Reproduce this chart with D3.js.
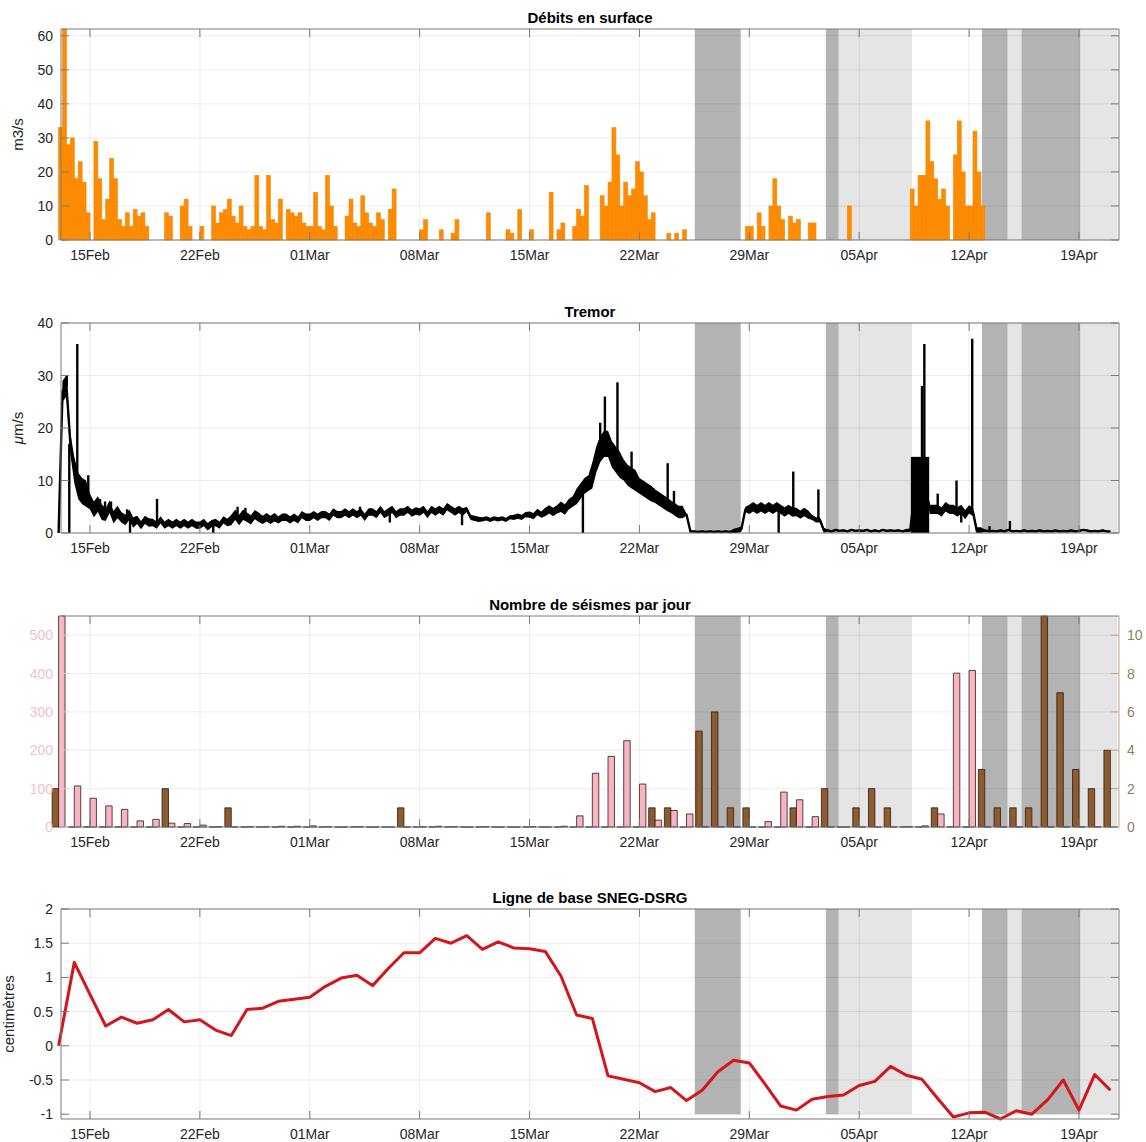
<!DOCTYPE html>
<html>
<head>
<meta charset="utf-8">
<style>
  body { margin: 0; background: #fff; }
  svg text { font-family: "Liberation Sans", Arial, Helvetica, sans-serif; fill: #262626; }
</style>
</head>
<body>
<svg id="chart" width="1146" height="1142"></svg>

<script src="https://d3js.org/d3.v7.min.js"></script>
<script>

// ---------- data ----------
// all series start 13 Feb 00:00 UTC
var t0 = Date.UTC(2021, 1, 13)

var tickDates = ['2021-02-15', '2021-02-22', '2021-03-01', '2021-03-08', '2021-03-15',
                 '2021-03-22', '2021-03-29', '2021-04-05', '2021-04-12', '2021-04-19']

// shaded periods (start, end)
var lightPeriods = [['2021-04-03T16:30', '2021-04-08T08:40'],
                    ['2021-04-14T10:50', '2021-04-15T08:10'],
                    ['2021-04-19T02:00', '2021-04-21T11:00']]
var darkPeriods  = [['2021-03-25T12:40', '2021-03-28T10:50'],
                    ['2021-04-02T21:00', '2021-04-03T16:30'],
                    ['2021-04-12T19:40', '2021-04-14T10:50'],
                    ['2021-04-15T08:10', '2021-04-19T02:00']]

// débits en surface, m3/s, one value every 6 h (one row per day)
var debits = [
  33,62,28,30,  18,23,17,8,  0,29,18,6,  12,24,18,6,  4,8,4,9,  7,8,4,0,  0,0,0,8,
  7,0,0,10,  12,4,0,0,  4,0,0,10,  5,8,9,12,  7,5,10,4,  3,4,19,4,  3,19,6,5,
  12,0,9,8,  7,8,5,4,  4,14,4,3,  19,10,4,0,  0,7,12,5,  4,13,8,5,  4,8,6,0,
  9,15,0,0,  0,0,0,0,  3,6,0,0,  0,3,0,0,  2,6,0,0,  0,0,0,0,  0,8,0,0,
  0,0,3,2,  0,9,0,0,  3,0,0,0,  0,14,0,3,  5,0,0,4,  9,7,16,0,  0,0,13,10,
  17,33,25,10,  17,13,15,23,  20,13,6,8,  0,0,0,2,  0,2,0,3,  0,0,0,0,  0,0,0,0,
  0,0,0,0,  0,0,0,4,  4,0,8,4,  0,10,18,10,  6,0,7,5,  6,0,0,5,  5,0,0,0,
  0,0,0,0,  0,10,0,0,  0,0,0,0,  0,0,0,0,  0,0,0,0,  0,15,10,19,  19,35,23,18,
  12,15,10,0,  25,35,20,10,  10,32,20,10
]

// tremor, µm/s, one value every 6 h
var tremor = [
  0,27,28,17,  12,9,8,7.5,  6,4.5,5.5,4,  3.5,5,3,4,  3,2.5,3.5,2,  2.5,1.5,2.5,2,
  2,1.5,2.5,1.5,  2,1.5,2,1.5,  2,1.5,2,1.5,  1.5,2,1.2,1.8,  2,1.5,2.5,2,
  2.5,3.5,2.5,3.5,  3,2.5,3.5,3,  2.5,3,2.5,3,  2.5,3,3,2.5,  3,2.5,3.5,3,
  3,3.5,3,3.5,  3.5,3,4,3.5,  3.5,4,3.5,4,  3.5,4,3,4,  4,3.5,4.5,3.5,
  4,4.5,3.5,4,  4,4.5,3.8,4.2,  4,4.5,3.5,4.5,  4,4.5,4,5,  4.5,4,4.5,4,
  4.5,3,2.8,2.6,  2.6,2.8,2.5,2.8,  2.6,2.8,2.5,3,  3,3.2,3,3.5,  3.5,3.2,4,3.5,
  4,4.5,4,4.5,  5,4.5,5.5,6,  7,8,9,9.5,  11,14,16,17,  17,15,14,13,
  12,11,10.5,10,  9,8.5,8,7.5,  7,6.5,6,5.5,  5,4.5,4,4,  3.5,0.3,0.3,0.2,
  0.3,0.2,0.3,0.2,  0.3,0.2,0.3,0.2,  0.3,0.5,0.8,4.5,  4.5,5,4.5,5,  4.5,5,4.5,5,
  4.5,4,4.5,4,  4,3.5,4,3.5,  3,2.5,2.5,0.5,  0.5,0.3,0.6,0.4,  0.5,0.3,0.6,0.4,
  0.5,0.4,0.6,0.3,  0.5,0.3,0.6,0.4,  0.5,0.4,0.5,0.3,  0.5,0.5,7,7.5,  7,8,4.5,4.5,
  4.5,4,5,4.5,  4.5,4,4.5,3.5,  4.5,4,0.3,0.3,  0.5,0.3,0.4,0.3,  0.5,0.3,0.6,0.3,
  0.4,0.3,0.5,0.3,  0.4,0.3,0.5,0.3,  0.4,0.3,0.5,0.3,  0.4,0.3,0.5,0.3,
  0.4,0.6,0.5,0.3,  0.4,0.3,0.5,0.3,  0.3
]
// half-width of the noisy tremor band, one value per day
var tremorSpread = [2, 2.5, 1.5, 1.2, 1, 0.8, 0.7, 0.7, 0.7, 0.7, 0.7, 1, 0.9, 0.8, 0.7, 0.7,
  0.7, 0.7, 0.7, 0.7, 0.7, 0.7, 0.7, 0.7, 0.7, 0.7, 0.5, 0.4, 0.4, 0.5, 0.6, 0.8, 1, 1.5,
  2.5, 2.5, 2, 1.5, 1.3, 1.2, 0.15, 0.15, 0.15, 0.5, 0.9, 0.9, 0.9, 0.8, 0.5,
  0.15, 0.15, 0.15, 0.15, 0.15, 0.3, 0.9, 0.9, 0.9, 0.8, 0.15, 0.15, 0.15, 0.15, 0.15,
  0.15, 0.15, 0.15, 0.15]
// burst of 8-9 Apr: [start, end, low, high]
var tremorBurst = ['2021-04-08T07:00', '2021-04-09T11:00', 0, 14.5]
// tremor spikes: [days after 13 Feb, value]
var tremorSpikes = [[0.52,30],[0.68,0],[1.19,36],[1.89,11],[2.64,6.5],[2.96,6],[3.34,6],
  [4.36,4.5],[4.55,0],[6.27,6.5],[9.85,0],[11.4,5],[11.9,4.8],[19.2,5],[21.1,2],[25.7,1.5],
  [33.4,0],[34.5,21],[34.8,26],[35.6,28.7],[36.5,15.5],[37.9,8.5],[38.8,13.3],[39.2,8],
  [45.87,0],[46.8,11.7],[48.4,8.3],[55.0,28],[55.15,36],[56.0,7.5],[57.2,10],[57.5,2],
  [58.2,37],[59.3,1.3],[60.6,2.3]]

// séismes par jour (13 Feb .. 21 Apr)
var seismesA = [550,107,75,55,46,16,20,10,9,5,1,0,1,1,2,2,
  3,1,0,1,0,0,0,1,2,1,0,1,0,0,1,0,2,29,140,184,225,112,18,43,34,0,0,0,0,14,91,
  71,27,0,0,0,0,0,1,3,34,401,408,0,0,0,0,0,0,0,0,0]
var seismesB = [2,0,0,0,0,0,0,2,0,0,0,1,0,0,0,0,
  0,0,0,0,0,0,1,0,0,0,0,0,0,0,0,0,0,0,0,0,0,0,1,1,0,5,6,1,1,0,0,
  1,0,2,0,1,2,1,0,0,1,0,0,3,1,1,1,11,7,3,2,4]

// ligne de base SNEG-DSRG, cm, daily
var baseline = [0.00,1.22,0.75,0.29,0.42,0.33,0.38,0.53,0.35,0.38,0.23,0.15,0.53,0.55,0.65,0.68,
  0.71,0.87,0.99,1.03,0.88,1.13,1.36,1.36,1.57,1.50,1.61,1.41,1.52,1.43,1.42,1.38,1.02,0.45,0.40,
  -0.44,-0.49,-0.54,-0.67,-0.61,-0.80,-0.65,-0.38,-0.21,-0.25,-0.56,-0.88,
  -0.94,-0.78,-0.74,-0.72,-0.58,-0.52,-0.30,-0.43,-0.49,-0.77,-1.04,-0.98,-0.97,-1.07,-0.95,-1.00,
  -0.79,-0.50,-0.94,-0.42,-0.65]


// ---------- helpers ----------
function atDay(d) { return new Date(t0 + d * 864e5) }
function utc(s) { return new Date(s + (s.length > 10 ? ':00Z' : 'T00:00:00Z')) }

var days = d3.utcDay.range(atDay(0), atDay(seismesA.length))

var svg = d3.select('#chart')
var L = 61, R = 1119

var x = d3.scaleUtc()
  .domain([atDay(0.153), atDay(67.55)])
  .range([L, R])

var fmt = d3.utcFormat('%d%b')
var ticksX = tickDates.map(utc)

var gridCol = 'rgba(0,0,0,0.075)'
var frameCol = '#7a7a7a'

function makePanel(top, bottom, yDomain, yTicks, title, patchDomain) {
  var y = d3.scaleLinear().domain(yDomain).range([bottom, top])
  var g = svg.append('g')
  var pTop = patchDomain ? y(patchDomain[1]) : top
  var pBot = patchDomain ? y(patchDomain[0]) : bottom

  var gPatch = g.append('g')
  gPatch.selectAll('rect.light').data(lightPeriods).enter().append('rect')
    .attr('x', d => x(utc(d[0]))).attr('width', d => x(utc(d[1])) - x(utc(d[0])))
    .attr('y', pTop).attr('height', pBot - pTop)
    .attr('fill', '#e5e5e5')
  gPatch.selectAll('rect.dark').data(darkPeriods).enter().append('rect')
    .attr('x', d => x(utc(d[0]))).attr('width', d => x(utc(d[1])) - x(utc(d[0])))
    .attr('y', pTop).attr('height', pBot - pTop)
    .attr('fill', '#b3b3b3')

  // grid
  var gGrid = g.append('g')
  gGrid.selectAll('line.v').data(ticksX).enter().append('line')
    .attr('x1', d => x(d)).attr('x2', d => x(d)).attr('y1', top).attr('y2', bottom)
    .attr('stroke', gridCol)
  gGrid.selectAll('line.h').data(yTicks).enter().append('line')
    .attr('x1', L).attr('x2', R).attr('y1', d => y(d)).attr('y2', d => y(d))
    .attr('stroke', gridCol)

  var gData = g.append('g')

  // title
  g.append('text')
    .attr('x', (L + R) / 2).attr('y', top - 6)
    .attr('text-anchor', 'middle')
    .style('font-size', '15px').style('font-weight', 'bold')
    .style('fill', '#000')
    .text(title)

  // x tick labels
  g.selectAll('text.xt').data(ticksX).enter().append('text')
    .attr('x', d => x(d)).attr('y', bottom + 20)
    .attr('text-anchor', 'middle')
    .style('font-size', '14px')
    .text(d => fmt(d))

  return { g: g, data: gData, y: y, top: top, bottom: bottom, yTicks: yTicks }
}

// frame + ticks, drawn on top of data
function drawFrame(p, leftCol, rightCol, rightTicks) {
  var f = p.g.append('g')
  f.append('line').attr('x1', L).attr('x2', R).attr('y1', p.top).attr('y2', p.top).attr('stroke', frameCol)
  f.append('line').attr('x1', L).attr('x2', R).attr('y1', p.bottom).attr('y2', p.bottom).attr('stroke', frameCol)
  f.append('line').attr('x1', L).attr('x2', L).attr('y1', p.top).attr('y2', p.bottom).attr('stroke', leftCol)
  f.append('line').attr('x1', R).attr('x2', R).attr('y1', p.top).attr('y2', p.bottom).attr('stroke', rightCol)

  ticksX.forEach(function(d) {
    f.append('line').attr('x1', x(d)).attr('x2', x(d)).attr('y1', p.top).attr('y2', p.top + 8).attr('stroke', frameCol)
    f.append('line').attr('x1', x(d)).attr('x2', x(d)).attr('y1', p.bottom).attr('y2', p.bottom - 8).attr('stroke', frameCol)
  })
  p.yTicks.forEach(function(v) {
    f.append('line').attr('x1', L).attr('x2', L + 8).attr('y1', p.y(v)).attr('y2', p.y(v)).attr('stroke', leftCol)
    if (!rightTicks)
      f.append('line').attr('x1', R).attr('x2', R - 8).attr('y1', p.y(v)).attr('y2', p.y(v)).attr('stroke', rightCol)
  })
}

function yLabels(p, col, fmtY) {
  p.g.selectAll('text.yt').data(p.yTicks).enter().append('text')
    .attr('x', L - 8).attr('y', d => p.y(d)).attr('dy', '0.36em')
    .attr('text-anchor', 'end')
    .style('font-size', '14px')
    .style('fill', col)
    .text(d => fmtY ? fmtY(d) : d)
}

function yTitle(p, xPos, txt) {
  return p.g.append('text')
    .attr('transform', 'translate(' + xPos + ',' + (p.top + p.bottom) / 2 + ') rotate(-90)')
    .attr('text-anchor', 'middle')
    .style('font-size', '15px')
    .text(txt)
}


// ---------- panel 1 : débits ----------
var p1 = makePanel(29, 240, [0, 62], [0, 10, 20, 30, 40, 50, 60], 'Débits en surface')

p1.data.selectAll('rect').data(debits.map((v, i) => ({ v: v, i: i })).filter(d => d.v > 0))
  .enter().append('rect')
    .attr('x', d => x(atDay(d.i * 0.25)))
    .attr('width', d => x(atDay((d.i + 1) * 0.25)) - x(atDay(d.i * 0.25)))
    .attr('y', d => p1.y(d.v))
    .attr('height', d => p1.y(0) - p1.y(d.v))
    .attr('fill', '#ff8c00')
    .attr('stroke', '#f28500')
    .attr('stroke-width', 0.6)

drawFrame(p1, frameCol, frameCol)
yLabels(p1, '#262626')
yTitle(p1, 23, 'm3/s')


// ---------- panel 2 : tremor ----------
var p2 = makePanel(323, 533, [0, 40], [0, 10, 20, 30, 40], 'Tremor')

var tremorBand = d3.area()
  .x((v, i) => x(atDay(i * 0.25)))
  .y0((v, i) => p2.y(Math.max(0, v - tremorSpread[Math.floor(i / 4)])))
  .y1((v, i) => p2.y(v + tremorSpread[Math.floor(i / 4)]))

var tremorLine = d3.line()
  .x((v, i) => x(atDay(i * 0.25)))
  .y(v => p2.y(v))

p2.data.selectAll('line.spike').data(tremorSpikes).enter().append('line')
  .attr('x1', d => x(atDay(d[0]))).attr('x2', d => x(atDay(d[0])))
  .attr('y1', d => p2.y(tremor[Math.round(d[0] / 0.25)]))
  .attr('y2', d => p2.y(d[1]))
  .attr('stroke', '#000').attr('stroke-width', 2.4)

p2.data.append('rect')
  .attr('x', x(utc(tremorBurst[0])))
  .attr('width', x(utc(tremorBurst[1])) - x(utc(tremorBurst[0])))
  .attr('y', p2.y(tremorBurst[3]))
  .attr('height', p2.y(tremorBurst[2]) - p2.y(tremorBurst[3]))
  .attr('fill', '#000')

p2.data.append('path')
  .attr('d', tremorBand(tremor))
  .attr('fill', '#000')

p2.data.append('path')
  .attr('d', tremorLine(tremor))
  .attr('fill', 'none')
  .attr('stroke', '#000')
  .attr('stroke-width', 2.4)
  .attr('stroke-linejoin', 'round')

drawFrame(p2, frameCol, frameCol)
yLabels(p2, '#262626')
var mu = yTitle(p2, 23, '')
mu.append('tspan').style('font-style', 'italic').text('μ')
mu.append('tspan').text('m/s')


// ---------- panel 3 : séismes ----------
var p3 = makePanel(616, 827, [0, 550], [0, 100, 200, 300, 400, 500], 'Nombre de séismes par jour')
var yB = d3.scaleLinear().domain([0, 11]).range([827, 616])
var barW = 0.41   // in days

function barPath(x0, x1, y0, y1) {
  return 'M' + x0 + ',' + y0 + 'V' + y1 + 'H' + x1 + 'V' + y0 + 'Z'
}

p3.data.selectAll('path.b').data(seismesB).enter().append('path')
  .attr('d', (v, i) => barPath(x(atDay(i - barW)), x(days[i]), yB(0), yB(v)))
  .attr('fill', '#8c5b2f')
  .attr('stroke', '#2b1d10')
  .attr('stroke-width', 0.8)

p3.data.selectAll('path.a').data(seismesA).enter().append('path')
  .attr('d', (v, i) => barPath(x(days[i]), x(atDay(i + barW)), p3.y(0), p3.y(v)))
  .attr('fill', '#f7b5c4')
  .attr('stroke', '#2b1d10')
  .attr('stroke-width', 0.8)

drawFrame(p3, '#f2c4cf', '#b8a888', true)
yLabels(p3, '#f2bfcb')

var rightTicks = [0, 2, 4, 6, 8, 10]
rightTicks.forEach(function(v) {
  p3.g.append('line').attr('x1', R).attr('x2', R - 8).attr('y1', yB(v)).attr('y2', yB(v)).attr('stroke', '#b8a888')
})
p3.g.selectAll('text.rt').data(rightTicks).enter().append('text')
  .attr('x', R + 8).attr('y', d => yB(d)).attr('dy', '0.36em')
  .style('font-size', '14px')
  .style('fill', '#8f7f58')
  .text(d => d)


// ---------- panel 4 : ligne de base ----------
var p4 = makePanel(909, 1119, [-1.07, 2], [-1, -0.5, 0, 0.5, 1, 1.5, 2], 'Ligne de base SNEG-DSRG', [-1, 2])

var baseLine = d3.line()
  .x((v, i) => x(days[i]))
  .y(v => p4.y(v))

p4.data.append('path')
  .attr('d', baseLine(baseline))
  .attr('fill', 'none')
  .attr('stroke', '#d4161c')
  .attr('stroke-width', 3)
  .attr('stroke-linejoin', 'round')

drawFrame(p4, frameCol, frameCol)
yLabels(p4, '#262626')
yTitle(p4, 14, 'centimètres')

</script>
</body>
</html>
